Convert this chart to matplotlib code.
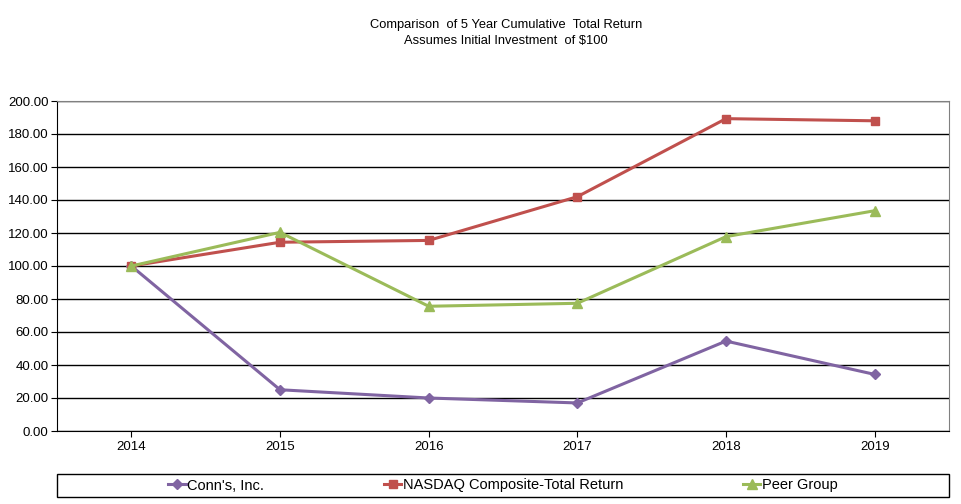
import matplotlib
matplotlib.use('Agg')
import matplotlib.pyplot as plt
from matplotlib.patches import Rectangle

# data
years = ['2014', '2015', '2016', '2017', '2018', '2019']
conns = [100.0, 25.0, 20.0, 17.0, 54.5, 34.3]
nasdaq = [100.0, 114.4, 115.5, 142.0, 189.3, 188.0]
peer = [100.0, 120.4, 75.6, 77.4, 117.8, 133.5]
yticks = [0, 20, 40, 60, 80, 100, 120, 140, 160, 180, 200]

plt.rcParams['font.family'] = ['Liberation Sans', 'DejaVu Sans']
plt.rcParams['font.size'] = 9

fig = plt.figure(figsize=(9.62, 5.04), dpi=100)
W, H = 962, 504
ax = fig.add_axes([57 / W, (H - 431) / H, 892 / W, 330 / H])

x = list(range(len(years)))
ax.plot(x, conns, color='#8064A2', lw=2.2, marker='D', ms=5.5, label="Conn's, Inc.")
ax.plot(x, nasdaq, color='#C0504D', lw=2.2, marker='s', ms=6, label='NASDAQ Composite-Total Return')
ax.plot(x, peer, color='#9BBB59', lw=2.2, marker='^', ms=7, label='Peer Group')

ax.set_xlim(-0.5, len(years) - 0.5)
ax.set_ylim(0, 200)
ax.set_yticks(yticks)
ax.set_yticklabels(['%.2f' % v for v in yticks])
ax.set_xticks(x)
ax.set_xticklabels(years)
ax.yaxis.grid(True, color='black', lw=1)
ax.set_axisbelow(True)
ax.tick_params(axis='both', direction='out', length=4, color='black', labelsize=9.5)
ax.tick_params(axis='x', pad=3)
ax.tick_params(axis='y', pad=2)
for s in ['top', 'right']:
    ax.spines[s].set_color('#808080')
for s in ['left', 'bottom']:
    ax.spines[s].set_color('black')

fig.text(506 / W, 1 - 25 / H, 'Comparison  of 5 Year Cumulative  Total Return',
         ha='center', va='center', fontsize=9.3)
fig.text(506 / W, 1 - 41 / H, 'Assumes Initial Investment  of $100',
         ha='center', va='center', fontsize=9.3)

# legend box along the bottom
fig.patches.append(Rectangle((57 / W, (H - 497) / H), 892 / W, 23 / H,
                             transform=fig.transFigure, fill=False,
                             edgecolor='black', lw=1))
leg = fig.legend(loc='center', bbox_to_anchor=(503 / W, (H - 485.5) / H),
                 ncol=3, frameon=False, fontsize=10.5,
                 handlelength=1.2, handletextpad=0.1, columnspacing=8.2,
                 borderpad=0, borderaxespad=0)

fig.savefig('out.png', dpi=100)
